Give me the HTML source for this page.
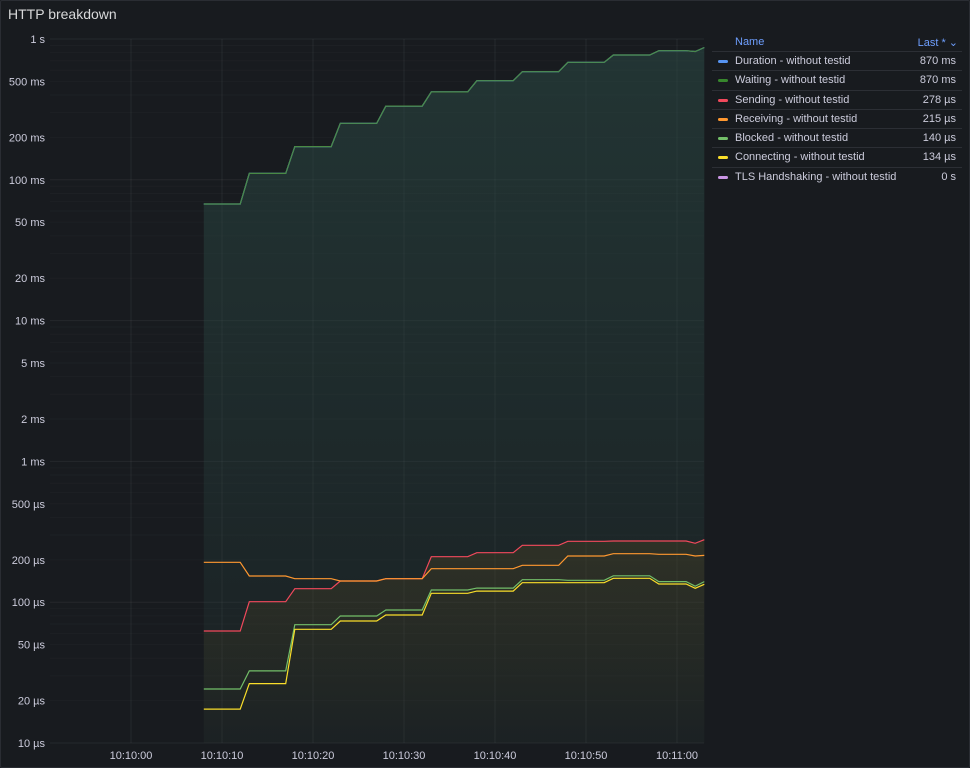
<!DOCTYPE html>
<html><head><meta charset="utf-8"><style>
body{margin:0;background:#181b1f;font-family:"Liberation Sans",sans-serif;color:#ccccdc;width:970px;height:768px;overflow:hidden;position:relative}
#panel{position:absolute;left:0;top:0;width:968px;height:766px;border:1px solid #2a2d33;border-radius:2px}
#title{position:absolute;left:8px;top:6px;font-size:14px;color:#d8d9da}
#legend{position:absolute;left:712px;top:33px;width:250px;font-size:11px}
.hdr{height:18px;position:relative;color:#6e9fff}
.row{height:18.3px;border-top:1px solid #2c2f35;position:relative;line-height:18px}
.sw{position:absolute;left:6px;top:8px;width:10px;height:3px;border-radius:2px}
.nm{position:absolute;left:23px}
.val{position:absolute;right:6px}
</style></head><body>
<div id="panel"></div>
<div id="title">HTTP breakdown</div>
<svg id="chart" width="970" height="768" style="position:absolute;left:0;top:0"></svg>
<div id="legend">
<div class="hdr"><span style="position:absolute;left:23px;top:3px">Name</span><span style="position:absolute;right:4px;top:3px">Last * ⌄</span></div>
</div>
<script>
const NS='http://www.w3.org/2000/svg';
const times=[8,12,13,17,18,22,23,27,28,32,33,37,38,42,43,47,48,52,53,57,58,61,62,63];
const waiting=[67300,67300,111000,111000,172000,172000,252000,252000,334000,334000,421000,421000,506000,506000,586000,586000,683000,683000,770000,770000,826000,826000,815000,870000];
const duration=waiting.slice();
const sending=[62.4,62.4,100.8,100.8,124.7,124.7,141.4,141.4,146.9,146.9,210.5,210.5,224.7,224.7,253.6,253.6,270.7,270.7,272,272,272,272,262,278];
const receiving=[192,192,153.5,153.5,146.9,146.9,141.4,141.4,146.9,146.9,173,173,173,173,182.8,182.8,212.8,212.8,221,221,218.8,218.8,212.8,215];
const blocked=[24.2,24.2,32.5,32.5,69.2,69.2,79.8,79.8,88,88,122,122,126,126,144.5,144.5,143,143,154,154,140,140,130,140];
const connecting=[17.4,17.4,26.4,26.4,64.2,64.2,73.5,73.5,81.1,81.1,115.7,115.7,120,120,137.6,137.6,137.6,137.6,147.8,147.8,134.7,134.7,125.5,134];
const yTickVals=[1e6,5e5,2e5,1e5,5e4,2e4,1e4,5e3,2e3,1e3,500,200,100,50,20,10];
const yTickLabels=['1 s','500 ms','200 ms','100 ms','50 ms','20 ms','10 ms','5 ms','2 ms','1 ms','500 µs','200 µs','100 µs','50 µs','20 µs','10 µs'];
const xTickVals=[0,10,20,30,40,50,60];
const xTickLabels=['10:10:00','10:10:10','10:10:20','10:10:30','10:10:40','10:10:50','10:11:00'];
const legendNames=['Duration - without testid','Waiting - without testid','Sending - without testid','Receiving - without testid','Blocked - without testid','Connecting - without testid','TLS Handshaking - without testid'];
const legendValues=['870 ms','870 ms','278 µs','215 µs','140 µs','134 µs','0 s'];
const legendColors=['#5794f2','#37872d','#f2495c','#ff9830','#73bf69','#fade2a','#ca95e5'];

const X0=50,X1=704,Y0=39,Y1=743;
function xs(t){return 131+t*9.1;}
function ys(v){return Y1-(Math.log10(v)-1)*140.8;}
const svg=document.getElementById('chart');
function mk(tag,attrs){const e=document.createElementNS(NS,tag);for(const k in attrs)e.setAttribute(k,attrs[k]);svg.appendChild(e);return e;}
const defs=mk('defs',{});
defs.innerHTML='<linearGradient id="gG" x1="0" y1="0" x2="0" y2="1"><stop offset="0" stop-color="#2b4a45" stop-opacity="0.55"/><stop offset="1" stop-color="#2b4a45" stop-opacity="0.12"/></linearGradient><linearGradient id="gY" x1="0" y1="0" x2="0" y2="1"><stop offset="0" stop-color="#5a4a20" stop-opacity="0.3"/><stop offset="1" stop-color="#5a4a20" stop-opacity="0.02"/></linearGradient>';
for(let d=1;d<6;d++){for(let m=1;m<10;m++){const v=Math.pow(10,d)*m;const y=ys(v);if(y<Y0-1)continue;
const g=mk('line',{x1:X0,x2:X1,y1:y,y2:y,stroke:'#ffffff','stroke-opacity':m===1?0.06:0.025});
}}
{const g=mk('line',{x1:X0,x2:X1,y1:Y0,y2:Y0,stroke:'#ffffff','stroke-opacity':0.06});}
xTickVals.forEach((t,i)=>{const x=xs(t);
const g=mk('line',{x1:x,x2:x,y1:Y0,y2:Y1,stroke:'#ffffff','stroke-opacity':0.06});

const tx=mk('text',{x:x,y:759,'text-anchor':'middle','font-size':11,fill:'#ccccdc'});tx.textContent=xTickLabels[i];
});
yTickVals.forEach((v,i)=>{const tx=mk('text',{x:45,y:ys(v)+4,'text-anchor':'end','font-size':11,fill:'#ccccdc'});tx.textContent=yTickLabels[i];
});
function pts(vals){return times.map((t,i)=>xs(t).toFixed(1)+','+ys(vals[i]).toFixed(1));}
function area(vals,fill,name){const p=pts(vals);const d='M'+xs(times[0])+','+Y1+' L'+p.join(' L')+' L'+xs(times[times.length-1])+','+Y1+' Z';
const a=mk('path',{d:d,fill:fill});}
area(waiting,'url(#gG)','waiting-area');
area(sending,'url(#gY)','lower-area');
function line(vals,color,name){const l=mk('polyline',{points:pts(vals).join(' '),fill:'none',stroke:color,'stroke-width':1.2});
}
line(duration,'#5794f2','duration-line');
line(waiting,'#4a8a45','waiting-line');
line(sending,'#f2495c','sending-line');
line(receiving,'#ff9830','receiving-line');
line(blocked,'#73bf69','blocked-line');
line(connecting,'#fade2a','connecting-line');
const lg=document.getElementById('legend');
legendNames.forEach((n,i)=>{const r=document.createElement('div');r.className='row';


r.innerHTML='<span class="sw" style="background:'+legendColors[i]+'"></span><span class="nm">'+n+'</span><span class="val">'+legendValues[i]+'</span>';
lg.appendChild(r);});
</script>
</body></html>
